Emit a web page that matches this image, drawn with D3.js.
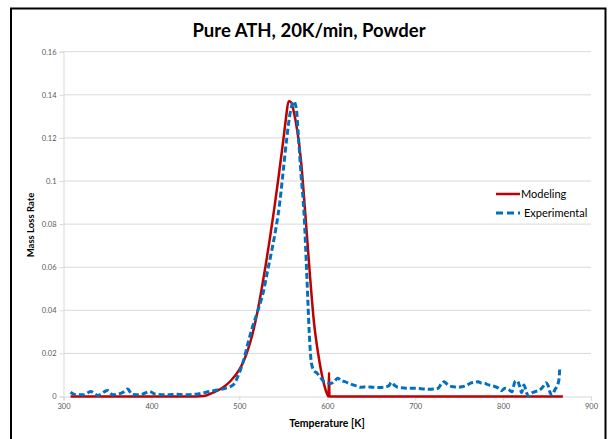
<!DOCTYPE html>
<html><head><meta charset="utf-8">
<script src="https://cdn.jsdelivr.net/npm/d3@7"></script>
<style>body{margin:0;background:#fff}svg{display:block}</style>
</head><body><svg id="c" width="608" height="439"></svg>
<script>
const title = "Pure ATH, 20K/min, Powder";
const xTicks = [300,400,500,600,700,800,900];
const yTicks = [0,0.02,0.04,0.06,0.08,0.1,0.12,0.14,0.16];
const yTickLabels = ["0","0.02","0.04","0.06","0.08","0.1","0.12","0.14","0.16"];
const seriesNames = ["Modeling","Experimental"];

const modelT = [308,400,450,460,470,480,490,500,505,510,515,520,525,530,535,540,545,550,553,556,559,562,566,570,575,580,585,590,595,600,601.5,602,602.5,868];
const modelV = [0,0,0,0.0002,0.0018,0.0038,0.0072,0.0125,0.0165,0.022,0.029,0.038,0.049,0.061,0.074,0.088,0.103,0.119,0.129,0.137,0.1365,0.132,0.123,0.11,0.085,0.058,0.034,0.019,0.008,0.001,0,0.011,0,0];

const expT = [308,314,323,331,339,350,356,367,373,378,387,398,405,418,427,440,453,466,475,484,493,500,505,510,514,518,522,527,532,537,542,546,550,554,558,562,565,567,570,573.6,577,579.6,582,585,588,592,596,600,604,608,612,616,620,625,629,634,638,645,651,658,664,670,673,677,680,686,691,698,704,710,717,722,726,730,733,736,739,744,748,753,757,760,763,768,772,774,779,781,785,789,795,798,802,806,810,813.6,816,819,821,823.7,826.7,828.6,832,836,841.7,845.5,848.5,851,853.8,856,858.7,861,863.5,864.5];
const expV = [0.002,0.0008,0.0008,0.0023,0.0005,0.0028,0.0008,0.0018,0.0035,0.001,0.0008,0.0023,0.001,0.0008,0.001,0.0008,0.0012,0.0023,0.003,0.0038,0.0054,0.011,0.017,0.025,0.031,0.036,0.041,0.048,0.058,0.068,0.079,0.09,0.105,0.12,0.132,0.137,0.133,0.122,0.104,0.085,0.054,0.029,0.0154,0.012,0.011,0.009,0.007,0.0065,0.006,0.007,0.0085,0.0072,0.0069,0.006,0.0054,0.0048,0.0043,0.0045,0.0043,0.0042,0.0043,0.005,0.0065,0.005,0.0043,0.004,0.0038,0.0038,0.0037,0.0035,0.0034,0.0036,0.0038,0.006,0.0069,0.0058,0.0049,0.0045,0.0043,0.0045,0.0049,0.0055,0.0062,0.0066,0.0069,0.0064,0.0062,0.0058,0.0052,0.0049,0.0038,0.0027,0.0038,0.0033,0.0022,0.0069,0.0073,0.0046,0.0018,0.0053,0.0018,0.0002,0.0015,0.0022,0.003,0.0046,0.0064,0.0053,0.0015,0.0007,0.003,0.0046,0.0077,0.0138];

const svg = d3.select("#c");
const font = "Lato, 'Open Sans', sans-serif";
const x = d3.scaleLinear().domain([300,900]).range([63.5,591]);
const y = d3.scaleLinear().domain([0,0.16]).range([396.5,51.7]);

// frame
svg.append("rect").attr("x",11).attr("y",8.5).attr("width",594.5).attr("height",440)
  .attr("fill","none").attr("stroke","#000").attr("stroke-width",2);

// title
svg.append("text").attr("x",309).attr("y",37).attr("text-anchor","middle")
  .attr("font-family",font).attr("font-weight","bold").attr("font-size",18.5).attr("fill","#000").text(title);

// gridlines
svg.append("g").selectAll("line").data(yTicks.slice(1)).join("line")
  .attr("x1",x(300)).attr("x2",x(900)).attr("y1",d=>y(d)).attr("y2",d=>y(d))
  .attr("stroke","#d9d9d9").attr("stroke-width",1);

// y axis
const yAxis = d3.axisLeft(y).tickValues(yTicks).tickFormat((d,i)=>yTickLabels[i]).tickSize(4).tickPadding(3);
const gy = svg.append("g").attr("transform",`translate(${x(300)},0)`).call(yAxis);
gy.select(".domain").attr("stroke","#d9d9d9");
gy.selectAll(".tick line").attr("stroke","#d9d9d9");
gy.selectAll("text").attr("font-family",font).attr("font-size",7.5).attr("fill","#595959");

// x axis
const xAxis = d3.axisBottom(x).tickValues(xTicks).tickFormat(d3.format("d")).tickSize(4).tickPadding(3);
const gx = svg.append("g").attr("transform",`translate(0,${y(0)})`).call(xAxis);
gx.select(".domain").attr("stroke","#d9d9d9");
gx.selectAll(".tick line").attr("stroke","#d9d9d9");
gx.selectAll("text").attr("font-family",font).attr("font-size",7.5).attr("fill","#595959");

// axis titles
svg.append("text").attr("x",327).attr("y",427).attr("text-anchor","middle")
  .attr("font-family",font).attr("font-weight","bold").attr("font-size",10.5).text("Temperature [K]");
svg.append("text").attr("transform","translate(34,225) rotate(-90)").attr("text-anchor","middle")
  .attr("font-family",font).attr("font-weight","bold").attr("font-size",9.5).text("Mass Loss Rate");

const line = d3.line().x(d=>x(d[0])).y(d=>y(d[1])).curve(d3.curveMonotoneX);
const modelData = modelT.map((t,i)=>[t,modelV[i]]);
const expData = expT.map((t,i)=>[t,expV[i]]);

svg.append("path").datum(modelData).attr("d",line).attr("fill","none")
  .attr("stroke","#c00000").attr("stroke-width",2.5).attr("stroke-linejoin","round");
svg.append("path").datum(expData).attr("d",line).attr("fill","none")
  .attr("stroke","#0070c0").attr("stroke-width",3).attr("stroke-dasharray","6,3").attr("stroke-linejoin","round");

// legend
const lg = svg.append("g");
lg.append("line").attr("x1",496).attr("x2",520).attr("y1",194).attr("y2",194).attr("stroke","#c00000").attr("stroke-width",2.5);
lg.append("text").attr("x",521).attr("y",198).attr("font-family",font).attr("font-size",11).attr("fill","#000").text(seriesNames[0]);
lg.append("line").attr("x1",496).attr("x2",520).attr("y1",213).attr("y2",213).attr("stroke","#0070c0").attr("stroke-width",3).attr("stroke-dasharray","7,4");
lg.append("text").attr("x",524).attr("y",217).attr("font-family",font).attr("font-size",11).attr("fill","#000").text(seriesNames[1]);
</script></body></html>
